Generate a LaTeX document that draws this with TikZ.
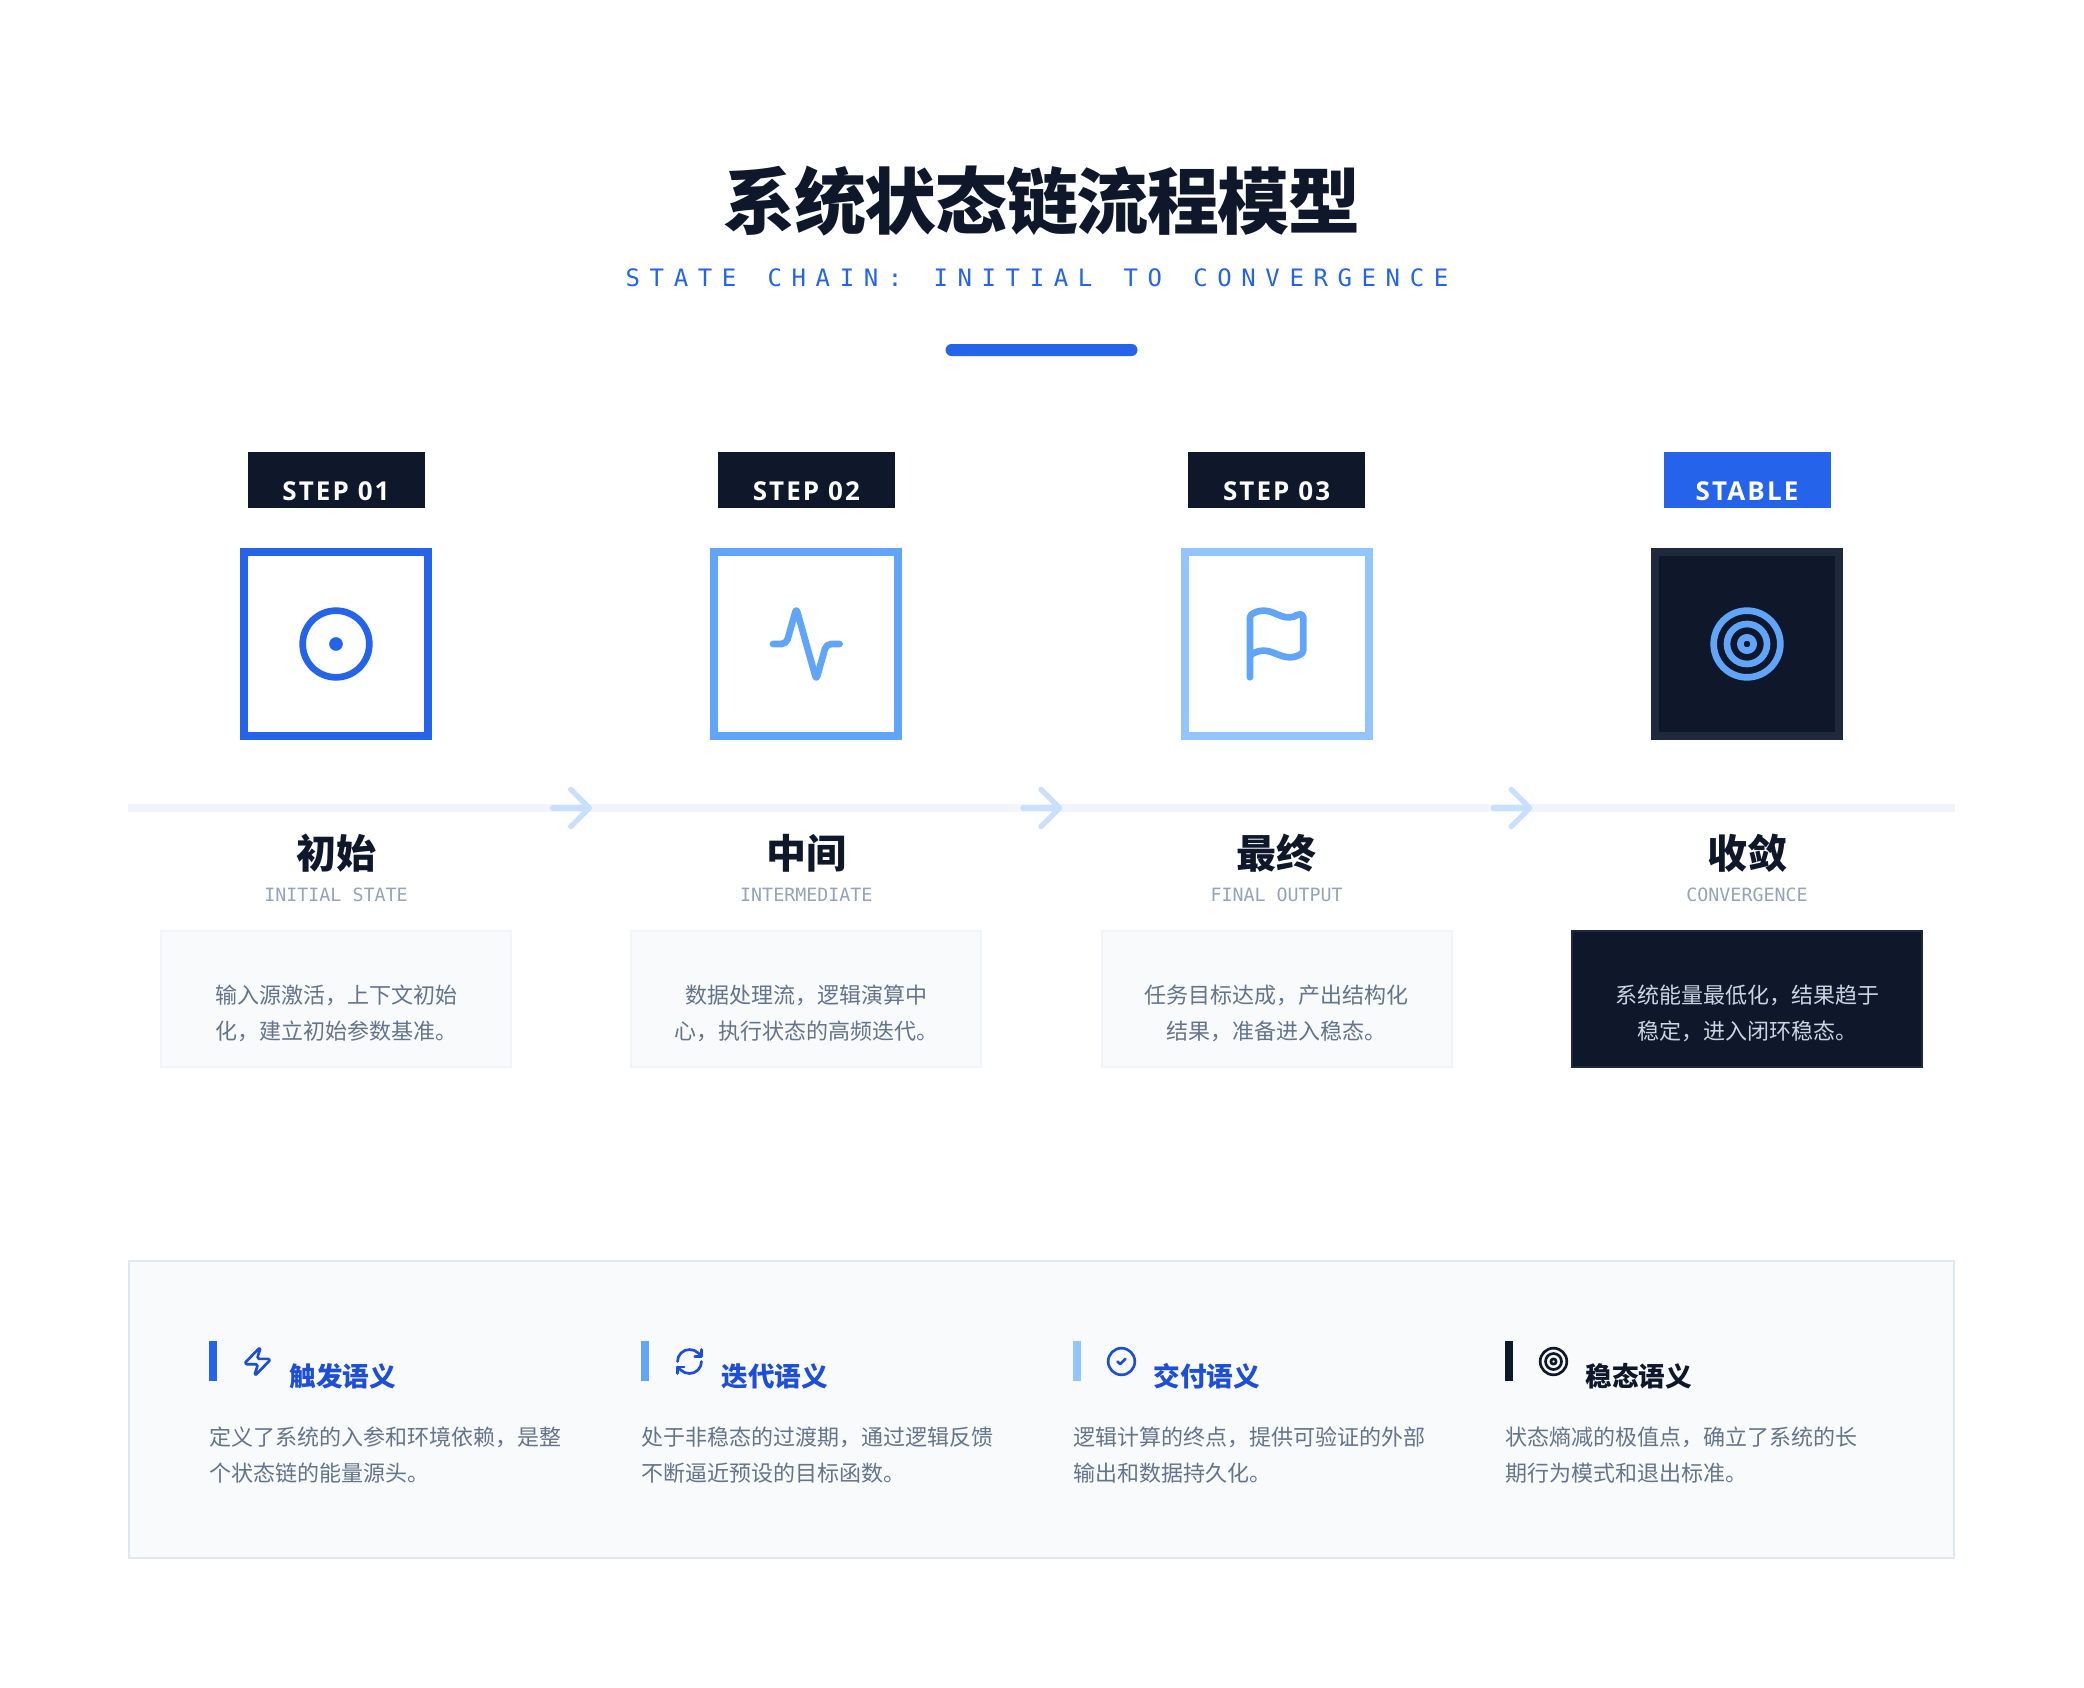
\documentclass[tikz,border=0pt]{standalone}
\usepackage{fontspec}
\setmainfont{Noto Sans CJK SC}
\setmonofont{DejaVu Sans Mono}
\newfontfamily\noir{Noto Sans CJK SC Black}
\newfontfamily\latgras{Open Sans}
\newfontfamily\espace[LetterSpace=40,WordSpace=1.3]{DejaVu Sans Mono}
\usetikzlibrary{arrows.meta}
\definecolor{encre}{HTML}{0F172A}
\definecolor{ardoise}{HTML}{1E293B}
\definecolor{bleuA}{HTML}{2563EB}
\definecolor{bleuB}{HTML}{60A5FA}
\definecolor{bleuC}{HTML}{93C5FD}
\definecolor{bleuD}{HTML}{1D4ED8}
\definecolor{pale}{HTML}{C8E0FE}
\definecolor{fond}{HTML}{F8FAFC}
\definecolor{filet}{HTML}{F1F5F9}
\definecolor{bord}{HTML}{E2E8F0}
\definecolor{gris}{HTML}{64748B}
\definecolor{grisB}{HTML}{94A3B8}
\definecolor{clair}{HTML}{CBD5E1}
\begin{document}
\begin{tikzpicture}[x=1pt,y=-1pt]
% Styles
\tikzstyle{etiquette}=[inner xsep=0pt,inner ysep=0pt,outer sep=0pt,minimum width=177pt,text height=48.5pt,text depth=7.5pt,text=white,font=\latgras\bfseries\fontsize{26}{30}\selectfont\addfontfeature{LetterSpace=8}]
\tikzstyle{boite}=[line width=8pt,minimum size=184pt,inner sep=0pt,outer sep=0pt,fill=white]
\tikzstyle{icone}=[line width=6.67pt,line cap=round,line join=round]
\tikzstyle{petite}=[line width=2.67pt,line cap=round,line join=round]
\tikzstyle{fleche}=[-{Straight Barb[round,length=18.67pt,width=37.33pt]},line width=5.33pt,line cap=round,pale]
\tikzstyle{titre}=[anchor=base,inner sep=0pt,text=encre,font=\bfseries\fontsize{40}{48}\selectfont]
\tikzstyle{code}=[anchor=base,inner sep=0pt,text=grisB,font=\ttfamily\fontsize{18.3}{22}\selectfont]
\tikzstyle{carte}=[line width=2pt,minimum width=350pt,minimum height=136pt,inner sep=0pt,outer sep=0pt,fill=fond,draw=filet]
\tikzstyle{texte}=[anchor=base,inner sep=0pt,align=center,text=gris,font=\fontsize{22}{36.5}\selectfont]
\tikzstyle{barre}=[minimum width=8pt,minimum height=40pt,inner sep=0pt,outer sep=0pt]
\tikzstyle{soustitre}=[anchor=base west,inner sep=0pt,text=bleuD,font=\bfseries\fontsize{26.6}{32}\selectfont]
\tikzstyle{note}=[anchor=base west,inner sep=0pt,align=left,text=gris,font=\fontsize{22}{36.3}\selectfont]
% Dimensions
\def\ColA{336}
\def\ColB{806.3}
\def\ColC{1276.6}
\def\ColD{1747}
\def\Boite{644}
\def\Axe{808}
\def\EchB{3.333pt}
\def\EchP{1.333pt}
% Cadre de la page
\useasboundingbox (0,0) rectangle (2084,1688);
% En-tete
\node[anchor=base,inner sep=0pt,text=encre,font=\noir\fontsize{72}{80}\selectfont\addfontfeature{LetterSpace=-2}] (entete) at (1042,229) {系统状态链流程模型};
\node[anchor=base,inner sep=0pt,text=bleuA,font=\espace\fontsize{24}{28}\selectfont] (sousentete) at (1037,286) {STATE CHAIN: INITIAL TO CONVERGENCE};
\node[fill=bleuA,rounded corners=6pt,minimum width=192pt,minimum height=12pt,inner sep=0pt] (trait) at (1041.5,350) {};
% Etiquettes
\node[etiquette,fill=encre,anchor=north] (t1) at (\ColA,452) {STEP 01};
\node[etiquette,fill=encre,anchor=north] (t2) at (\ColB,452) {STEP 02};
\node[etiquette,fill=encre,anchor=north] (t3) at (\ColC,452) {STEP 03};
\node[etiquette,fill=bleuA,anchor=north,minimum width=167pt] (t4) at (\ColD,452) {STABLE};
% Boites
\node[boite,draw=bleuA] (b1) at (\ColA,\Boite) {};
\node[boite,draw=bleuB] (b2) at (\ColB,\Boite) {};
\node[boite,draw=bleuC] (b3) at (\ColC,\Boite) {};
\node[boite,draw=ardoise,fill=encre] (b4) at (\ColD,\Boite) {};
% Icones des boites
\begin{scope}[shift={(\ColA-40,\Boite-40)},x=\EchB,y=-\EchB]
\draw[icone,bleuA] (12,12) circle (10);
\fill[bleuA] (12,12) circle (2.05);
\end{scope}
\begin{scope}[shift={(\ColB-40,\Boite-40)},x=\EchB,y=-\EchB]
\draw[icone,bleuB] (22,12) -- (19.52,12) .. controls (18.63,12) and (17.83,12.6) .. (17.59,13.46) -- (15.24,21.82) .. controls (15.17,22.07) and (14.83,22.07) .. (14.76,21.82) -- (9.24,2.18) .. controls (9.17,1.93) and (8.83,1.93) .. (8.76,2.18) -- (6.41,10.54) .. controls (6.17,11.4) and (5.37,12) .. (4.49,12) -- (2,12);
\end{scope}
\begin{scope}[shift={(\ColC-40,\Boite-40)},x=\EchB,y=-\EchB]
\draw[icone,bleuB] (4,22) -- (4,4) .. controls (4,3.69) and (4.15,3.39) .. (4.4,3.2) .. controls (5.44,2.42) and (6.7,2) .. (8,2) .. controls (11,2) and (13,4) .. (15.33,4) .. controls (16.67,4) and (17.69,3.73) .. (18.4,3.2) .. controls (19.06,2.71) and (20,3.18) .. (20,4) -- (20,14) .. controls (20,14.31) and (19.85,14.61) .. (19.6,14.8) .. controls (18.56,15.58) and (17.3,16) .. (16,16) .. controls (13,16) and (11,14) .. (8,14) .. controls (6.52,14) and (5.1,14.55) .. (4,15.53);
\end{scope}
\begin{scope}[shift={(\ColD-40,\Boite-40)},x=\EchB,y=-\EchB]
\draw[icone,bleuB] (12,12) circle (10);
\draw[icone,bleuB] (12,12) circle (6);
\draw[icone,bleuB] (12,12) circle (2);
\end{scope}
% Axe et fleches
\coordinate (axeg) at (128,\Axe);
\coordinate (axed) at (1955,\Axe);
\draw[filet,line width=8pt] (axeg) -- (axed);
\coordinate (f1a) at (552.7,\Axe);
\coordinate (f1b) at (592,\Axe);
\coordinate (f2a) at (1023,\Axe);
\coordinate (f2b) at (1062.3,\Axe);
\coordinate (f3a) at (1493.3,\Axe);
\coordinate (f3b) at (1532.6,\Axe);
\draw[fleche] (f1a) -- (f1b);
\draw[fleche] (f2a) -- (f2b);
\draw[fleche] (f3a) -- (f3b);
% Titres des colonnes
\node[titre] (h1) at (\ColA,868) {初始};
\node[titre] (h2) at (\ColB,868) {中间};
\node[titre] (h3) at (\ColC,868) {最终};
\node[titre] (h4) at (\ColD,868) {收敛};
\node[code] (c1) at (\ColA,901) {INITIAL STATE};
\node[code] (c2) at (\ColB,901) {INTERMEDIATE};
\node[code] (c3) at (\ColC,901) {FINAL OUTPUT};
\node[code] (c4) at (\ColD,901) {CONVERGENCE};
% Cartes
\node[carte] (k1) at (\ColA,999.3) {};
\node[carte] (k2) at (\ColB,999.3) {};
\node[carte] (k3) at (\ColC,999.3) {};
\node[carte,fill=encre,draw=ardoise] (k4) at (\ColD,999.3) {};
\node[texte] (x1) at (\ColA,1039.6) {输入源激活，上下文初始\\化，建立初始参数基准。};
\node[texte] (x2) at (\ColB,1039.6) {数据处理流，逻辑演算中\\心，执行状态的高频迭代。};
\node[texte] (x3) at (\ColC,1039.6) {任务目标达成，产出结构化\\结果，准备进入稳态。};
\node[texte,text=clair] (x4) at (\ColD,1039.6) {系统能量最低化，结果趋于\\稳定，进入闭环稳态。};
% Encadrement du bas
\node[line width=2pt,draw=bord,fill=fond,minimum width=1825pt,minimum height=297pt,inner sep=0pt,outer sep=0pt] (cadre) at (1041.5,1409.5) {};
% Barres
\node[barre,fill=bleuA] (r1) at (213,1361) {};
\node[barre,fill=bleuB] (r2) at (645,1361) {};
\node[barre,fill=bleuC] (r3) at (1077,1361) {};
\node[barre,fill=encre] (r4) at (1509,1361) {};
% Petites icones
\begin{scope}[shift={(241.5,1345.5)},x=\EchP,y=-\EchP]
\draw[petite,bleuD] (4,14) .. controls (3.15,14) and (2.65,12.96) .. (3.22,12.37) -- (13.12,2.17) .. controls (13.47,1.8) and (14.12,2.15) .. (13.98,2.63) -- (12.06,8.65) .. controls (11.85,9.3) and (12.32,10) .. (13,10) -- (20,10) .. controls (20.85,10) and (21.35,11.04) .. (20.78,11.63) -- (10.88,21.83) .. controls (10.53,22.2) and (9.88,21.85) .. (10.02,21.37) -- (11.94,15.35) .. controls (12.15,14.7) and (11.68,14) .. (11,14) -- cycle;
\end{scope}
\begin{scope}[shift={(673.5,1345.5)},x=\EchP,y=-\EchP]
\draw[petite,bleuD] (3,12) .. controls (3,7.03) and (7.03,3) .. (12,3) .. controls (14.52,3) and (16.94,4) .. (18.74,5.74) -- (21,8);
\draw[petite,bleuD] (21,3) -- (21,8) -- (16,8);
\draw[petite,bleuD] (21,12) .. controls (21,16.97) and (16.97,21) .. (12,21) .. controls (9.48,21) and (7.06,20) .. (5.26,18.26) -- (3,16);
\draw[petite,bleuD] (8,16) -- (3,16) -- (3,21);
\end{scope}
\begin{scope}[shift={(1105.5,1345.5)},x=\EchP,y=-\EchP]
\draw[petite,bleuD] (12,12) circle (10);
\draw[petite,bleuD] (9,12) -- (11,14) -- (15,10);
\end{scope}
\begin{scope}[shift={(1537.5,1345.5)},x=\EchP,y=-\EchP]
\draw[petite,encre] (12,12) circle (10);
\draw[petite,encre] (12,12) circle (6);
\draw[petite,encre] (12,12) circle (2);
\end{scope}
% Sous-titres et notes
\node[soustitre] (s1) at (289.5,1386.4) {触发语义};
\node[soustitre] (s2) at (721.5,1386.4) {迭代语义};
\node[soustitre] (s3) at (1153.5,1386.4) {交付语义};
\node[soustitre,text=encre] (s4) at (1585.5,1386.4) {稳态语义};
\node[note] (n1) at (209,1481.7) {定义了系统的入参和环境依赖，是整\\个状态链的能量源头。};
\node[note] (n2) at (641,1481.7) {处于非稳态的过渡期，通过逻辑反馈\\不断逼近预设的目标函数。};
\node[note] (n3) at (1073,1481.7) {逻辑计算的终点，提供可验证的外部\\输出和数据持久化。};
\node[note] (n4) at (1505,1481.7) {状态熵减的极值点，确立了系统的长\\期行为模式和退出标准。};
\end{tikzpicture}
\end{document}
